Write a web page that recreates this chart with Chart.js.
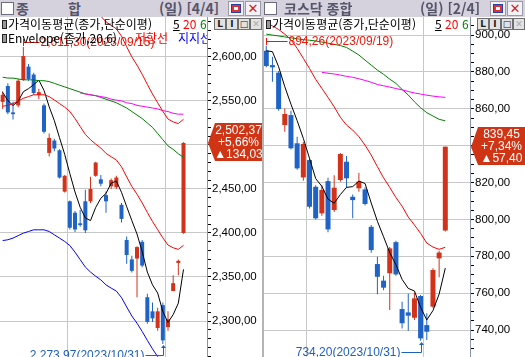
<!DOCTYPE html>
<html lang="ko">
<head>
<meta charset="utf-8">
<title>종합 / 코스닥 종합</title>
<script src="https://cdn.jsdelivr.net/npm/chart.js@4.4.1/dist/chart.umd.min.js"></script>
<style>
  html, body { margin:0; padding:0; background:#fff; }
  body { width:525px; height:357px; position:relative; overflow:hidden; font-family:'Noto Sans CJK KR','Noto Sans',sans-serif; }
  .win { position:absolute; top:0; height:357px; overflow:hidden; }
  .title { position:absolute; left:0; top:0; right:0; height:17px; background:#d5d2dd; color:#55556a; font-size:14px; font-weight:bold; line-height:17px; }
  .title span { position:absolute; top:0; }
  .chk { position:absolute; top:2px; width:11px; height:11px; background:#fff; border:1px solid #6c6c7c; }
  .ico { position:absolute; top:1px; width:14px; height:13px; background:#f2f2f6; border:1px solid #9a9aa8; }
  .ico.rs::after { content:''; position:absolute; left:2px; top:2px; width:8px; height:7px; border:1px solid #2a3fa8; background:#fff; box-shadow: inset 0 0 0 2px #d33; }
  .ico.cl { color:#c22; font:bold 13px 'DejaVu Sans',sans-serif; text-align:center; line-height:13px; }
  canvas { position:absolute; top:17px; left:0; }
  .lg { position:absolute; top:17px; height:30px; overflow:hidden; font-size:12px; line-height:14px; white-space:nowrap; color:#000; }
  .lg span { position:absolute; }
  .mk { width:3px; height:7px; border:1px solid #222; background:#999; }
  .btn { position:absolute; top:18px; width:10px; height:10px; border:1px solid #6f6f6f; background:#e2e2e2; color:#222; font:bold 9px 'DejaVu Sans',sans-serif; text-align:center; line-height:10px; }
  .btn.off { color:#aaa; }
  .sep { position:absolute; left:0; top:17px; width:2px; height:340px; background:#b4b4b4; }
</style>
</head>
<body>

<div class="win" style="left:0;width:262px">
  <div class="title">
    <div class="chk" style="left:1px"></div>
    <span style="left:16px">종</span><span style="left:68px">합</span>
    <span style="left:159px">(일) [4/4]</span>
    <div class="ico rs" style="left:228px"></div>
    <div class="ico cl" style="left:245px">✕</div>
  </div>
  <canvas id="kospi" width="262" height="340"></canvas>
  <div class="lg" style="left:0;width:207px">
    <span class="mk" style="left:2px;top:3px"></span>
    <span style="left:8px;top:0">가격이동평균(종가,단순이평)</span>
    <span style="left:173px;top:0;text-decoration:underline">5</span>
    <span style="left:183px;top:0;color:#ff0000">20</span>
    <span style="left:200px;top:0;color:#008000">6(0)</span>
    <span class="mk" style="left:2px;top:17px"></span>
    <span style="left:8px;top:14px">Envelope(종가,20,6)</span>
    <span style="left:135px;top:14px;color:#ff0000">저항선</span>
    <span style="left:178px;top:14px;color:#0000ff">지지선</span>
  </div>
  <div class="btn" style="left:214px">L</div>
  <div class="btn" style="left:226px">I</div>
  <div class="btn" style="left:238px">□</div>
  <div class="btn off" style="left:250px">✕</div>
</div>

<div class="win" style="left:262px;width:263px">
  <div class="title">
    <div class="chk" style="left:2px"></div>
    <span style="left:22px">코스닥 종합</span>
    <span style="left:158px">(일) [2/4]</span>
    <div class="ico rs" style="left:228px"></div>
    <div class="ico cl" style="left:245px">✕</div>
  </div>
  <canvas id="kosdaq" width="263" height="340"></canvas>
  <div class="sep"></div>
  <div class="lg" style="left:0;width:208px">
    <span class="mk" style="left:4px;top:3px"></span>
    <span style="left:10px;top:0">가격이동평균(종가,단순이평)</span>
    <span style="left:173px;top:0;text-decoration:underline">5</span>
    <span style="left:183px;top:0;color:#ff0000">20</span>
    <span style="left:200px;top:0;color:#008000">6(0)</span>
  </div>
  <div class="btn" style="left:215px">L</div>
  <div class="btn" style="left:227px">I</div>
  <div class="btn" style="left:239px">□</div>
  <div class="btn off" style="left:251px">✕</div>
</div>

<script>
// ---- 종합 (KOSPI) daily ----
var kospiDates = ['2023/09/11','2023/09/12','2023/09/13','2023/09/14','2023/09/15','2023/09/18','2023/09/19','2023/09/20','2023/09/21','2023/09/22','2023/09/25','2023/09/26','2023/09/27',
  '2023/10/04','2023/10/05','2023/10/06','2023/10/10','2023/10/11','2023/10/12','2023/10/13','2023/10/16','2023/10/17','2023/10/18','2023/10/19','2023/10/20','2023/10/23','2023/10/24','2023/10/25','2023/10/26','2023/10/27','2023/10/30','2023/10/31',
  '2023/11/01','2023/11/02','2023/11/03','2023/11/06'];
var kospiOpen  = [2549,2567,2537,2545,2574,2589,2580,2557,2545,2491,2505,2494,2447,2436,2423,2411,2436,2436,2465,2461,2443,2453,2452,2432,2392,2370,2371,2390,2327,2311,2292,2318,2293,2334,2366,2400];
var kospiHigh  = [2561,2570,2549,2575,2611.30,2592,2582,2564,2547,2513,2507,2495,2466,2437,2425,2426,2449,2464,2481,2466,2447,2462,2465,2434,2396,2374,2385,2392,2331,2321,2315,2321,2311,2352,2370,2503];
var kospiLow   = [2541,2535,2529,2543,2573,2573,2557,2552,2513,2487,2493,2462,2446,2404,2401,2407,2400,2434,2464,2453,2423,2450,2450,2412,2365,2355,2327,2361,2297,2299,2289,2273.97,2289,2334,2352,2399];
var kospiClose = [2557,2537,2535,2573,2601,2575,2559,2560,2515,2508,2496,2463,2465,2406,2404,2409,2403,2450,2480,2456,2436,2460,2463,2416,2375,2357,2384,2363,2299,2303,2311,2278,2302,2343,2368.34,2502.37];
var kospiMa5   = [2559.7,2550.5,2544.8,2549.7,2560.5,2564.0,2568.6,2573.6,2562.0,2543.4,2527.6,2508.3,2489.4,2467.5,2446.6,2429.2,2417.1,2414.1,2429.0,2439.5,2445.0,2456.5,2459.0,2446.2,2430.0,2414.1,2398.8,2378.9,2355.6,2341.1,2331.8,2310.7,2298.4,2307.2,2320.3,2358.7];
var kospiMa20  = [2544,2545,2547,2550,2553,2555,2557,2557,2557,2555,2551,2547,2543,2538,2530,2521,2512,2506,2501,2496.5,2490.5,2486.6,2483,2475.1,2463.8,2452.9,2444.1,2434.2,2423.4,2413.1,2403.8,2394.5,2386.3,2383.2,2381.4,2386];
var kospiMa60  = [2577,2576,2576,2575,2574,2574,2574,2573,2573,2572,2570,2568,2566,2564,2562,2560,2558,2557,2556,2554,2552,2550,2548,2545,2542,2538,2534,2530,2525,2520,2513,2506,2499,2495,2490,2486];
var kospiMa120 = [null,null,null,null,null,null,null,null,null,null,null,null,null,null,null,2559,2558,2557,2556,2555,2554,2552,2551,2550,2548,2547,2545,2544,2543,2542,2541,2539,2538,2536,2535,2535];
var kospiEnvUp = [2696.6,2697.7,2699.8,2703.0,2706.2,2708.3,2710.4,2710.4,2710.4,2708.3,2704.1,2699.8,2695.6,2690.3,2681.8,2672.3,2662.7,2656.4,2651.1,2646.3,2640.0,2635.8,2632.0,2623.6,2611.6,2600.1,2590.7,2580.3,2568.8,2557.9,2548.0,2538.2,2529.5,2526.2,2524.3,2529.2];
var kospiEnvDn = [2391.4,2392.3,2394.2,2397.0,2399.8,2401.7,2403.6,2403.6,2403.6,2401.7,2397.9,2394.2,2390.4,2385.7,2378.2,2369.7,2361.3,2355.6,2350.9,2346.7,2341.1,2337.4,2334.0,2326.6,2316.0,2305.7,2297.5,2288.1,2278.0,2268.3,2259.6,2250.8,2243.1,2240.2,2238.5,2242.8];
var kospiTicks = [2300,2350,2400,2450,2500,2550,2600];

// ---- 코스닥 종합 (KOSDAQ) daily ----
var kosdaqDates = ['2023/09/19','2023/09/20','2023/09/21','2023/09/22','2023/09/25','2023/09/26','2023/09/27',
  '2023/10/04','2023/10/05','2023/10/06','2023/10/10','2023/10/11','2023/10/12','2023/10/13','2023/10/16','2023/10/17','2023/10/18','2023/10/19','2023/10/20','2023/10/23','2023/10/24','2023/10/25','2023/10/26','2023/10/27','2023/10/30','2023/10/31',
  '2023/11/01','2023/11/02','2023/11/03','2023/11/06'];
var kosdaqOpen  = [891.5,883.7,879.6,851.2,856.6,841.3,822.8,832.2,817.7,803.3,820.8,805.1,821.4,831.3,812.3,816.9,816.3,796.0,775.8,766.8,770.8,787.7,751.4,749.6,746.7,758.5,742.7,752.7,778.9,794.0];
var kosdaqHigh  = [894.26,888.2,880.5,860.2,859.0,844.8,842.0,833.0,818.5,818.6,822.6,824.0,836.0,834.4,813.5,825.3,817.5,797.0,779.8,769.4,785.0,788.5,755.4,759.9,760.4,759.0,749.1,773.5,783.0,839.6];
var kosdaqLow   = [882.5,874.7,859.0,847.6,838.0,827.0,821.0,806.0,800.0,802.0,793.0,804.0,820.5,817.0,800.6,815.0,807.5,782.0,759.4,761.6,750.9,769.5,740.9,739.6,745.5,734.20,734.6,752.0,768.6,793.5];
var kosdaqClose = [883.2,882.5,859.9,857.2,838.6,827.7,840.9,806.9,800.6,816.0,794.6,817.2,835.5,822.3,810.5,820.5,808.4,783.4,768.9,763.0,784.3,770.2,743.7,747.8,757.2,735.5,739.1,772.6,782.05,839.45];
var kosdaqMa5   = [891.5,891.0,882.8,872.0,862.5,853.6,844.0,833.2,822.2,818.0,811.0,808.8,813.5,817.4,817.8,820.8,819.5,808.9,799.0,790.6,782.0,775.5,767.5,762.6,761.2,752.3,745.5,750.6,759.5,773.6];
var kosdaqMa20  = [906.5,905.0,903.0,900.5,897.5,892.8,887.4,881.9,876.0,871.1,866.2,861.1,855.4,851.2,848.5,844.9,840.3,834.9,828.6,822.6,817.4,811.9,807.2,801.3,797.0,792.4,787.2,785.0,783.8,784.9];
var kosdaqMa60  = [900.5,900.0,899.5,899.0,898.5,898.0,897.5,897.2,896.8,896.2,895.6,895.0,894.3,893.3,891.3,889.2,886.4,883.7,881.0,878.7,876.1,873.8,870.5,867.5,863.8,860.6,857.9,856.1,854.3,853.5];
var kosdaqMa120 = [null,null,null,null,null,null,null,null,null,879.8,879.3,878.9,878.3,877.6,877.1,876.3,875.4,874.4,873.2,872.5,871.8,871.0,870.3,869.4,868.6,868.0,867.4,866.9,866.5,866.2];
var kosdaqTicks = [740,760,780,800,820,840,860,880,900];

var UP = '#d2321a', DOWN = '#1f63c6', GRID = '#c8c8c8';
var TXT = '"Liberation Sans", Arial, sans-serif';

function fmtNum(v) {
  var s = Math.abs(v).toFixed(2).split('.');
  return s[0].replace(/\B(?=(\d{3})+(?!\d))/g, ',') + ',' + s[1];
}

// high / low arrows and the last-price tag
var marks = {
  id: 'marks',
  afterDraw: function(chart, args, o) {
    var ctx = chart.ctx, a = chart.chartArea, x = chart.scales.x, y = chart.scales.y;
    ctx.save();
    ctx.font = '12px ' + TXT;
    ctx.lineWidth = 1;

    ctx.save();
    ctx.beginPath(); ctx.rect(a.left, a.top, a.width, a.height); ctx.clip();
    // high
    var hx = Math.round(x.getPixelForValue(o.hiIdx)) + 0.5;
    var hy = Math.round(y.getPixelForValue(o.high[o.hiIdx]));
    ctx.strokeStyle = ctx.fillStyle = '#e8190c';
    ctx.beginPath();
    ctx.moveTo(hx, hy - 8); ctx.lineTo(hx, hy - 1);
    ctx.moveTo(hx, hy - 4.5); ctx.lineTo(hx + o.hiGap - 1, hy - 4.5);
    ctx.stroke();
    ctx.textBaseline = 'middle'; ctx.textAlign = 'left';
    ctx.fillText(fmtNum(o.high[o.hiIdx]) + '(' + o.dates[o.hiIdx] + ')', hx + o.hiGap, hy - 4);
    // low
    var lx = Math.round(x.getPixelForValue(o.loIdx)) + 0.5;
    var ly = Math.round(y.getPixelForValue(o.low[o.loIdx]));
    ctx.strokeStyle = ctx.fillStyle = '#1f5fbf';
    ctx.beginPath();
    ctx.moveTo(lx - 2.5, ly + 4); ctx.lineTo(lx + 2.5, ly + 4); ctx.lineTo(lx, ly + 1); ctx.closePath(); ctx.fill();
    ctx.beginPath();
    ctx.moveTo(lx, ly + 4); ctx.lineTo(lx, ly + 11.5);
    ctx.lineTo(lx - o.loGap + 1, ly + 11.5);
    ctx.stroke();
    ctx.textAlign = 'right';
    ctx.fillText(fmtNum(o.low[o.loIdx]) + '(' + o.dates[o.loIdx] + ')', lx - o.loGap, ly + 12);
    ctx.restore();

    // last price tag on the axis
    var n = o.close.length, last = o.close[n - 1], prev = o.close[n - 2];
    var ty = Math.round(y.getPixelForValue(last));
    var ax = a.right + 1, bx = chart.width;
    ctx.fillStyle = '#cf3414';
    ctx.beginPath();
    ctx.moveTo(ax, ty); ctx.lineTo(ax + 7, ty - 20); ctx.lineTo(bx, ty - 20);
    ctx.lineTo(bx, ty + 18); ctx.lineTo(ax + 7, ty + 18); ctx.closePath(); ctx.fill();
    ctx.fillStyle = '#fff'; ctx.textAlign = 'center'; ctx.textBaseline = 'middle';
    var cx = (ax + 7 + bx) / 2;
    ctx.fillText(fmtNum(last), cx, ty - 12);
    ctx.fillText('+' + fmtNum((last - prev) / prev * 100) + '%', cx, ty);
    ctx.fillText('▲' + fmtNum(last - prev), cx, ty + 12);
    ctx.restore();
  }
};

function pts(arr) { return arr.map(function(v, i) { return { x: i, y: v }; }); }
function maLine(arr, color) {
  return { type: 'line', data: pts(arr), borderColor: color, borderWidth: 1, pointRadius: 0, tension: 0, fill: false, spanGaps: false, order: 0 };
}

function drawChart(id, d) {
  var isUp = function(c) { return d.close[c.dataIndex] >= d.open[c.dataIndex] ? UP : DOWN; };
  var sets = d.lines.map(function(l) { return maLine(l[0], l[1]); });
  sets.push({
    label: 'wick', data: d.low.map(function(v, i) { return { x: i, y: [v, d.high[i]] }; }),
    backgroundColor: isUp, barThickness: 1, order: 2
  });
  sets.push({
    label: 'body', data: d.open.map(function(v, i) { return { x: i, y: [v, d.close[i]] }; }),
    backgroundColor: isUp, barThickness: d.bw, minBarLength: 1, order: 1
  });

  return new Chart(document.getElementById(id), {
    type: 'bar',
    data: { datasets: sets },
    plugins: [marks],
    options: {
      responsive: false, animation: false, events: [],
      layout: { padding: { left: d.padLeft, right: 0, top: 0, bottom: 0 } },
      datasets: { bar: { grouped: false, borderWidth: 0, inflateAmount: 0 } },
      plugins: {
        legend: { display: false }, tooltip: { enabled: false },
        marks: { dates: d.dates, high: d.high, low: d.low, close: d.close, hiIdx: d.hiIdx, loIdx: d.loIdx, hiGap: d.hiGap, loGap: d.loGap }
      },
      scales: {
        x: {
          type: 'linear', min: d.xMin, max: d.xMax, offset: false,
          grid: { offset: false, color: GRID, drawTicks: false },
          border: { display: false }, ticks: { display: false },
          afterBuildTicks: function(s) { s.ticks = d.months.map(function(v) { return { value: v }; }); },
          afterFit: function(s) { s.height = 0; }
        },
        y: {
          position: 'right', min: d.yMin, max: d.yMax,
          grid: {
            color: function(c) { return c.tick && d.ticks.indexOf(c.tick.value) >= 0 ? GRID : 'rgba(0,0,0,0)'; },
            tickColor: '#000', tickLength: 4
          },
          border: { color: '#8a94a8' },
          ticks: {
            autoSkip: false, padding: 1, color: '#000', font: { family: 'Liberation Sans', size: 11.5 },
            callback: function(v) { return d.ticks.indexOf(v) >= 0 ? fmtNum(v) : ''; }
          },
          afterBuildTicks: function(s) {
            var t = [];
            for (var v = Math.ceil(s.min / d.minor) * d.minor; v <= s.max; v += d.minor) t.push({ value: v });
            s.ticks = t;
          },
          afterFit: function(s) { s.width = 55; s.paddingTop = 0; s.paddingBottom = 0; }
        }
      }
    }
  });
}

drawChart('kospi', {
  dates: kospiDates, open: kospiOpen, high: kospiHigh, low: kospiLow, close: kospiClose,
  lines: [[kospiEnvUp, '#ff0000'], [kospiEnvDn, '#0000ff'], [kospiMa120, '#ff00ff'], [kospiMa60, '#008000'], [kospiMa20, '#ff0000'], [kospiMa5, '#000000']],
  ticks: kospiTicks, minor: 10, yMin: 2259.1, yMax: 2645.4,
  xMin: -0.52, xMax: 39.55, months: [12.5, 31.5], bw: 4, padLeft: 0,
  hiIdx: 4, loIdx: 31, hiGap: 17, loGap: 19
});

drawChart('kosdaq', {
  dates: kosdaqDates, open: kosdaqOpen, high: kosdaqHigh, low: kosdaqLow, close: kosdaqClose,
  lines: [[kosdaqMa120, '#ff00ff'], [kosdaqMa60, '#008000'], [kosdaqMa20, '#ff0000'], [kosdaqMa5, '#000000']],
  ticks: kosdaqTicks, minor: 5, yMin: 725.4, yMax: 909.8,
  xMin: -0.53, xMax: 33.0, months: [6.5, 25.5], bw: 5, padLeft: 1,
  hiIdx: 0, loIdx: 25, hiGap: 22, loGap: 21
});
</script>
</body>
</html>
